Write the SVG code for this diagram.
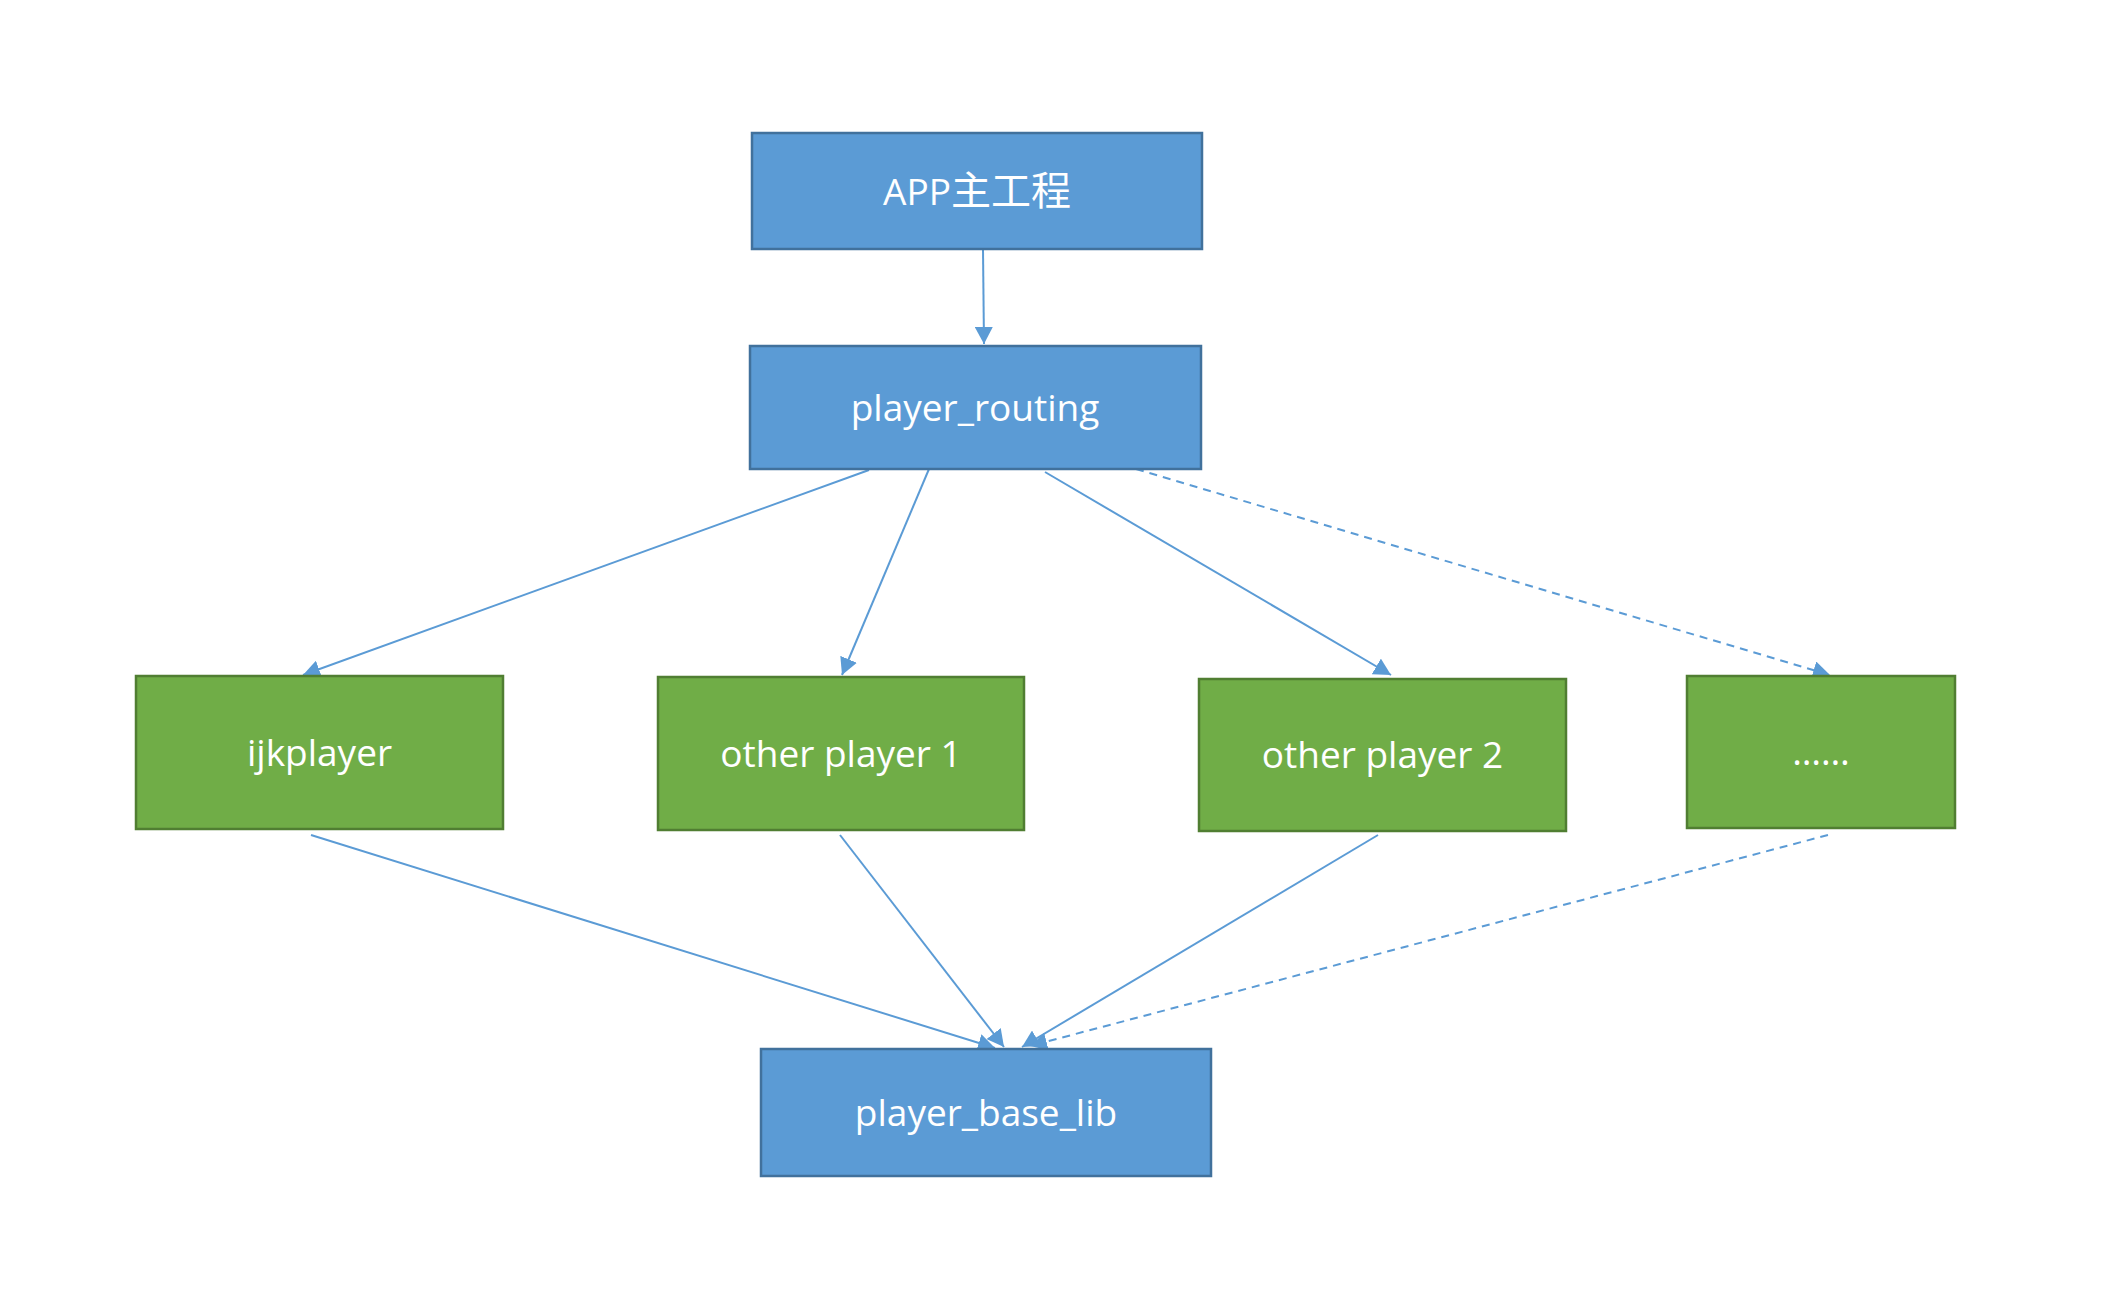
<svg xmlns="http://www.w3.org/2000/svg" width="2120" height="1298" viewBox="0 0 2120 1298">
<style>
.blue{fill:#5B9BD5;stroke:#41719C;stroke-width:2.5}
.green{fill:#70AD47;stroke:#507E32;stroke-width:2.5}
.lbl{fill:#FFFFFF;font-family:"Open Sans","Noto Sans CJK SC",sans-serif;font-size:37px;text-anchor:middle}
.conn{stroke:#5B9BD5;stroke-width:2;fill:none;marker-end:url(#arr)}
.dash{stroke-dasharray:8 6}
</style>
<defs>
<marker id="arr" markerUnits="userSpaceOnUse" markerWidth="18" markerHeight="18" refX="17" refY="9" orient="auto">
<path d="M0,0 L17,9 L0,18 z" fill="#5B9BD5"/>
</marker>
</defs>
<rect width="2120" height="1298" fill="#FFFFFF"/>
<g id="connectors">
<line class="conn" x1="983" y1="249" x2="984" y2="344"/>
<line class="conn" x1="869" y1="470" x2="303" y2="675"/>
<line class="conn" x1="929" y1="469" x2="842" y2="675"/>
<line class="conn" x1="1045" y1="472" x2="1391" y2="675"/>
<line class="conn dash" x1="1136" y1="469" x2="1830" y2="675"/>
<line class="conn" x1="311" y1="835" x2="995" y2="1048"/>
<line class="conn" x1="840" y1="835" x2="1004" y2="1047"/>
<line class="conn" x1="1378" y1="835" x2="1022" y2="1047"/>
<line class="conn dash" x1="1828" y1="835" x2="1030" y2="1046"/>
</g>
<g id="app">
<rect class="blue" x="752" y="133" width="450" height="116"/>
<text class="lbl" x="977" y="205">APP<tspan font-size="40">主工程</tspan></text>
</g>
<g id="player_routing">
<rect class="blue" x="750" y="346" width="451" height="123"/>
<text class="lbl" x="975" y="421">player_routing</text>
</g>
<g id="ijkplayer">
<rect class="green" x="136" y="676" width="367" height="153"/>
<text class="lbl" x="319.5" y="766">ijkplayer</text>
</g>
<g id="other_player_1">
<rect class="green" x="658" y="677" width="366" height="153"/>
<text class="lbl" x="841" y="767">other player 1</text>
</g>
<g id="other_player_2">
<rect class="green" x="1199" y="679" width="367" height="152"/>
<text class="lbl" x="1382.5" y="768">other player 2</text>
</g>
<g id="more">
<rect class="green" x="1687" y="676" width="268" height="152"/>
<text class="lbl" x="1821" y="765">……</text>
</g>
<g id="player_base_lib">
<rect class="blue" x="761" y="1049" width="450" height="127"/>
<text class="lbl" x="986" y="1126">player_base_lib</text>
</g>
</svg>
